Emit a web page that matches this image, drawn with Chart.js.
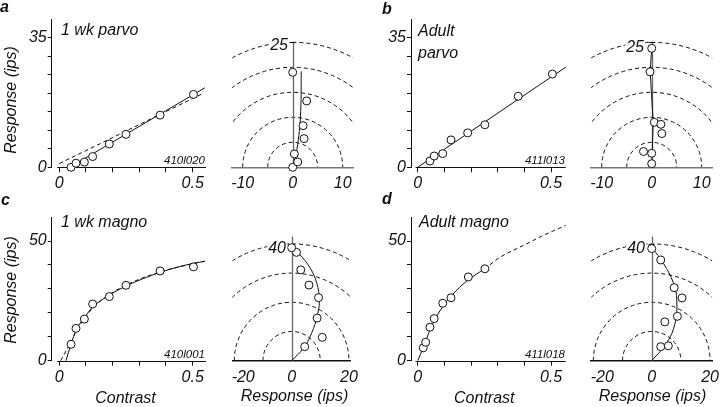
<!DOCTYPE html>
<html>
<head>
<meta charset="utf-8">
<script src="https://cdn.jsdelivr.net/npm/chart.js@4.4.1/dist/chart.umd.min.js"></script>
<style>
body{margin:0;background:#fff;}
#fig{position:relative;width:720px;height:407px;overflow:hidden;font-family:"Liberation Sans",Arial,sans-serif;font-style:italic;color:#111;}
#fig canvas{position:absolute;}
.t{position:absolute;white-space:nowrap;line-height:1;}
</style>
</head>
<body>
<div id="fig">
  <canvas id="cA"></canvas><canvas id="pA"></canvas>
  <canvas id="cB"></canvas><canvas id="pB"></canvas>
  <canvas id="cC"></canvas><canvas id="pC"></canvas>
  <canvas id="cD"></canvas><canvas id="pD"></canvas>
</div>
<script>
// --- données ---
// a : 1 wk parvo
const contrastA = [0.044, 0.0625, 0.094, 0.125, 0.1875, 0.25, 0.378, 0.503];
const respA = [0, 1.1, 1.4, 2.9, 6.3, 8.9, 14.1, 19.7];
const fitA_c = [0.039, 0.546];
const fitA_r = [0, 21.5];
const fit2A_c = [0, 0.54];
const fit2A_r = [1.0, 20.0];
const polarA_x = [0, 1.0, 0.33, 2.27, 2.07, 2.8, 0];
const polarA_y = [0, 1.07, 2.67, 5.73, 8.33, 13.27, 19];
const polarFitA_x = [0, 0.47, 1.13, 1.47, 1.67, 1.7];
const polarFitA_y = [0, 1.5, 5.5, 8.8, 13.5, 19.2];

// b : adult parvo
const contrastB = [0.046, 0.062, 0.094, 0.125, 0.1875, 0.252, 0.377, 0.505];
const respB = [1.7, 3.05, 3.7, 7.4, 9.3, 11.5, 19.2, 25.2];
const fitB_c = [0, 0.556];
const fitB_r = [0, 27.1];
const polarB_x = [0, 0, -1.64, 0.52, 1.84, 2.03, -0.33, 0];
const polarB_y = [0.72, 2.8, 3.15, 9.0, 8.6, 6.75, 19.1, 23.8];
const polarFitB_x = [0, 0.3, -0.3, 0];
const polarFitB_y = [0, 9, 19.1, 23.8];

// c : 1 wk magno
const contrastC = [0.044, 0.0625, 0.094, 0.125, 0.1875, 0.25, 0.378, 0.503];
const respC = [6.85, 13.5, 17.4, 23.7, 26.8, 31.5, 37.5, 39.2];
const fitC_c = [0.025, 0.044, 0.0625, 0.094, 0.125, 0.1875, 0.25, 0.378, 0.503, 0.546];
const fitC_r = [0, 6.9, 12.7, 18.0, 22.4, 27.4, 31.2, 36.9, 40.7, 41.5];
const fit2C_c = [0.005, 0.03, 0.05, 0.0625, 0.1, 0.125, 0.1875, 0.25, 0.375, 0.5, 0.546];
const fit2C_r = [0, 5, 9, 12.2, 18.4, 22, 27.6, 31.6, 37, 40.5, 41.6];
const polarC_x = [4.57, 10.7, 8.9, 9.4, 6.06, 3.2, 1.7, 0];
const polarC_y = [4.8, 8.0, 14.6, 21.6, 25.9, 31.1, 37.1, 38.7];
const polarFitC_x = [0, 4.57, 7.66, 9.14, 9.7, 8.8, 6.5, 2.5, 0];
const polarFitC_y = [0, 4.8, 11.1, 16.2, 20.8, 26.5, 31.7, 36.8, 39.1];

// d : adult magno
const contrastD = [0.021, 0.030, 0.046, 0.062, 0.094, 0.125, 0.19, 0.252];
const respD = [5.4, 7.7, 14, 17.6, 24, 26.3, 35, 38.4];
const fitD_c = [0, 0.02, 0.046, 0.0625, 0.094, 0.125, 0.19, 0.25];
const fitD_r = [0, 5.2, 12.8, 16.8, 22.6, 27, 33.8, 38.3];
const extD_c = [0.25, 0.31, 0.375, 0.42, 0.47, 0.53, 0.555];
const extD_r = [38.3, 43.3, 47, 49.5, 52.3, 55.3, 56.5];
const polarD_x = [3.1, 5.7, 4.5, 8.8, 10.4, 7.7, 3.1, 0];
const polarD_y = [4.8, 5.1, 13.3, 15.2, 21.5, 25.0, 34.5, 38.4];
const polarFitD_x = [0, 5.1, 8, 8.6, 7.5, 4, 0.3];
const polarFitD_y = [0, 6, 12.8, 20.8, 26.5, 33.4, 38.5];

// axes
const contrastTicks = [0, 0.1, 0.2, 0.3, 0.4, 0.5];
const contrastLabels = [0, 0.5];
const parvoTicks = [0, 5, 10, 15, 20, 25, 30, 35];
const parvoLabels = [0, 35];
const magnoTicks = [0, 10, 20, 30, 40, 50];
const magnoLabels = [0, 50];
const parvoPolarTicks = [-10, 0, 10];
const magnoPolarTicks = [-20, 0, 20];
const parvoRings = [5, 10, 15, 20, 25];
const magnoRings = [10, 20, 30, 40];

const ink = '#111';
const tickFont = {family: "'Liberation Sans', Arial, sans-serif", size: 16, style: 'italic'};

function place(cv, box){
    cv.width = box[2]; cv.height = box[3];
    cv.style.left = box[0] + 'px'; cv.style.top = box[1] + 'px';
}
function pts(xs, ys){ return xs.map((x, i) => ({x: x, y: ys[i]})); }
function circles(xs, ys){
    return {data: pts(xs, ys), showLine: false, pointRadius: 4, pointBackgroundColor: '#fff',
        pointBorderColor: ink, pointBorderWidth: 1, clip: false};
}
function curve(xs, ys, dash, mode){
    const ds = {data: pts(xs, ys), showLine: true, pointRadius: 0, borderColor: ink, borderWidth: 1,
        borderDash: dash ? [4, 3] : [], clip: false};
    if (mode === 'mono') ds.cubicInterpolationMode = 'monotone';
    else ds.tension = mode || 0;
    return ds;
}

// axe des x détaché de l'axe des y
const contrastAxis = {
    id: 'contrastAxis',
    beforeDatasetsDraw(chart, args, opts){
        const {ctx, chartArea: a, scales: {x}} = chart;
        ctx.save();
        ctx.strokeStyle = ink; ctx.lineWidth = 1;
        ctx.beginPath();
        ctx.moveTo(x.getPixelForValue(opts.from), Math.round(a.bottom) + 0.5);
        ctx.lineTo(a.right, Math.round(a.bottom) + 0.5);
        ctx.stroke();
        ctx.restore();
    }
};

// cercles pointillés + axe vertical du diagramme polaire
const polarGrid = {
    id: 'polarGrid',
    beforeDatasetsDraw(chart, args, opts){
        const {ctx, chartArea: a, scales: {x, y}} = chart;
        const cx = x.getPixelForValue(0), cy = y.getPixelForValue(0);
        ctx.save();
        ctx.beginPath();
        ctx.rect(a.left, a.top - 10, a.right - a.left, a.bottom - a.top + 10);
        ctx.clip();
        ctx.setLineDash([4, 3]);
        ctx.strokeStyle = ink; ctx.lineWidth = 1;
        opts.rings.forEach(r => {
            ctx.beginPath();
            ctx.ellipse(cx, cy, x.getPixelForValue(r) - cx, cy - y.getPixelForValue(r), 0, Math.PI, 2 * Math.PI);
            ctx.stroke();
        });
        ctx.restore();
        ctx.save();
        ctx.strokeStyle = '#666'; ctx.lineWidth = 1.3;
        const vx = Math.round(cx) + 0.5;
        ctx.beginPath(); ctx.moveTo(vx, cy); ctx.lineTo(vx, a.top); ctx.stroke();
        const ty = Math.round(y.getPixelForValue(opts.topTick)) + 0.5;
        ctx.strokeStyle = ink; ctx.lineWidth = 1;
        ctx.beginPath(); ctx.moveTo(vx - 4, ty); ctx.lineTo(vx + 2, ty); ctx.stroke();
        ctx.restore();
    }
};

function contrastChart(id, box, area, xr, yr, yTicks, yLabels, datasets){
    const [L, T, W, H] = box, [l, t, r, b] = area;
    const cv = document.getElementById(id);
    place(cv, box);
    return new Chart(cv, {
        type: 'scatter',
        data: {datasets},
        options: {
            responsive: false, animation: false, events: [],
            layout: {padding: {left: 0, top: t - T, right: L + W - r, bottom: 0}},
            plugins: {legend: {display: false}, tooltip: {enabled: false}, contrastAxis: {from: -0.008}},
            scales: {
                x: {type: 'linear', min: xr[0], max: xr[1],
                    afterFit: s => { s.height = T + H - b; },
                    afterBuildTicks: s => { s.ticks = contrastTicks.map(v => ({value: v})); },
                    border: {display: false},
                    grid: {drawOnChartArea: false, tickLength: 5, color: ink, lineWidth: 1},
                    ticks: {padding: 2, color: ink, font: tickFont, autoSkip: false, maxRotation: 0,
                        callback: v => contrastLabels.includes(v) ? String(v) : ''}},
                y: {type: 'linear', min: yr[0], max: yr[1],
                    afterFit: s => { s.width = l - L; },
                    afterBuildTicks: s => { s.ticks = yTicks.map(v => ({value: v})); },
                    border: {display: true, color: ink, width: 1},
                    grid: {drawOnChartArea: false, tickLength: 4, color: ink, lineWidth: 1},
                    ticks: {padding: 1, color: ink, font: tickFont, autoSkip: false,
                        callback: v => yLabels.includes(v) ? String(v) : ''}}
            }
        },
        plugins: [contrastAxis]
    });
}

function polarChart(id, box, area, xLim, yMax, xTicks, rings, topTick, baseColor, datasets){
    const [L, T, W, H] = box, [l, t, r, b] = area;
    const cv = document.getElementById(id);
    place(cv, box);
    return new Chart(cv, {
        type: 'scatter',
        data: {datasets},
        options: {
            responsive: false, animation: false, events: [],
            layout: {padding: {left: l - L, top: t - T, right: L + W - r, bottom: 0}},
            plugins: {legend: {display: false}, tooltip: {enabled: false},
                polarGrid: {rings: rings, topTick: topTick}},
            scales: {
                x: {type: 'linear', min: -xLim, max: xLim,
                    afterFit: s => { s.height = T + H - b; },
                    afterBuildTicks: s => { s.ticks = xTicks.map(v => ({value: v})); },
                    border: {display: true, color: baseColor, width: 1.6},
                    grid: {display: false, drawTicks: false, tickLength: 0},
                    ticks: {padding: 7, color: ink, font: tickFont, autoSkip: false, maxRotation: 0,
                        // le "-20" est décalé vers la droite dans l'original
                        callback: v => (v <= -20 ? '\u2007\u2007' : '') + String(v)}},
                y: {type: 'linear', min: 0, max: yMax, display: false}
            }
        },
        plugins: [polarGrid]
    });
}

// --- a ---
contrastChart('cA', [0, 0, 232, 200], [51.7, 19.3, 206, 167.3], [-0.0285, 0.55], [0, 40], parvoTicks, parvoLabels, [
    circles(contrastA, respA),
    curve(fitA_c, fitA_r, false),
    curve(fit2A_c, fit2A_r, true)
]);
polarChart('pA', [205, 20, 160, 180], [232.2, 42.3, 353.2, 167.3], 12.1, 25, parvoPolarTicks, parvoRings, 25, '#777', [
    circles(polarA_x, polarA_y),
    curve(polarFitA_x, polarFitA_y, false, 0.3)
]);

// --- b ---
contrastChart('cB', [360, 0, 232, 200], [411, 19.3, 565.7, 167.3], [-0.025, 0.555], [0, 40], parvoTicks, parvoLabels, [
    circles(contrastB, respB),
    curve(fitB_c, fitB_r, false)
]);
polarChart('pB', [565, 20, 170, 180], [591.2, 42.3, 712.2, 167.3], 12.1, 25, parvoPolarTicks, parvoRings, 25, '#777', [
    circles(polarB_x, polarB_y),
    curve(polarFitB_x, polarFitB_y, false, 0)
]);

// --- c ---
contrastChart('cC', [0, 195, 232, 212], [51.7, 217.1, 206, 360.7], [-0.0285, 0.55], [0, 60], magnoTicks, magnoLabels, [
    circles(contrastC, respC),
    curve(fitC_c, fitC_r, false, 'mono'),
    curve(fit2C_c, fit2C_r, true, 'mono')
]);
polarChart('pC', [205, 205, 160, 202], [232.3, 236.6, 353.1, 360.7], 20.7, 42.5, magnoPolarTicks, magnoRings, 40, ink, [
    circles(polarC_x, polarC_y),
    curve(polarFitC_x, polarFitC_y, false, 0.4)
]);

// --- d ---
contrastChart('cD', [360, 195, 232, 212], [411, 217.1, 565.7, 360.7], [-0.025, 0.555], [0, 60], magnoTicks, magnoLabels, [
    circles(contrastD, respD),
    curve(fitD_c, fitD_r, false, 'mono'),
    curve(extD_c, extD_r, true, 'mono')
]);
polarChart('pD', [565, 205, 170, 202], [591.3, 236.6, 712.1, 360.7], 20.7, 42.5, magnoPolarTicks, magnoRings, 40, ink, [
    circles(polarD_x, polarD_y),
    curve(polarFitD_x, polarFitD_y, false, 0.4)
]);

// --- textes ---
const fig = document.getElementById('fig');
function txt(s, x, base, size, align, extra){
    const d = document.createElement('div');
    d.className = 't';
    d.textContent = s;
    d.style.fontSize = size + 'px';
    d.style.left = x + 'px';
    d.style.top = (base - 0.846 * size) + 'px';
    if (align === 'center') d.style.transform = 'translateX(-50%)';
    if (align === 'right') d.style.transform = 'translateX(-100%)';
    if (extra) Object.assign(d.style, extra);
    fig.appendChild(d);
    return d;
}
function vtitle(s, cx, cy){
    const d = document.createElement('div');
    d.className = 't';
    d.textContent = s;
    d.style.fontSize = '16px';
    d.style.left = cx + 'px';
    d.style.top = cy + 'px';
    d.style.transform = 'translate(-50%,-50%) rotate(-90deg)';
    fig.appendChild(d);
}
const bold = {fontWeight: 'bold'};
txt('a', 0, 12.3, 16, 'left', bold);
txt('b', 382, 15, 16, 'left', bold);
txt('c', 1, 206, 16, 'left', bold);
txt('d', 382, 205, 16, 'left', bold);

txt('1 wk parvo', 61, 35.7, 16);
txt('Adult', 418, 36.7, 16);
txt('parvo', 418, 58.3, 16);
txt('1 wk magno', 61, 227.7, 16);
txt('Adult magno', 419, 227.7, 16);

txt('410l020', 205, 165, 11.5, 'right');
txt('411l013', 565, 165, 11.5, 'right');
txt('410l001', 205, 358.5, 11.5, 'right');
txt('411l018', 565, 358.5, 11.5, 'right');

const lbl = {background: '#fff', padding: '0 1px'};
txt('25', 289, 50.7, 16, 'right', lbl);
txt('25', 645, 52.5, 16, 'right', lbl);
txt('40', 287, 253.3, 16, 'right', lbl);
txt('40', 646, 253.3, 16, 'right', lbl);

vtitle('Response (ips)', 10.5, 100);
vtitle('Response (ips)', 10.5, 290);
txt('Contrast', 125.5, 404, 16, 'center');
txt('Contrast', 484.3, 404, 16, 'center');
txt('Response (ips)', 294.5, 402, 16, 'center');
txt('Response (ips)', 652.5, 402, 16, 'center');
</script>
</body>
</html>
